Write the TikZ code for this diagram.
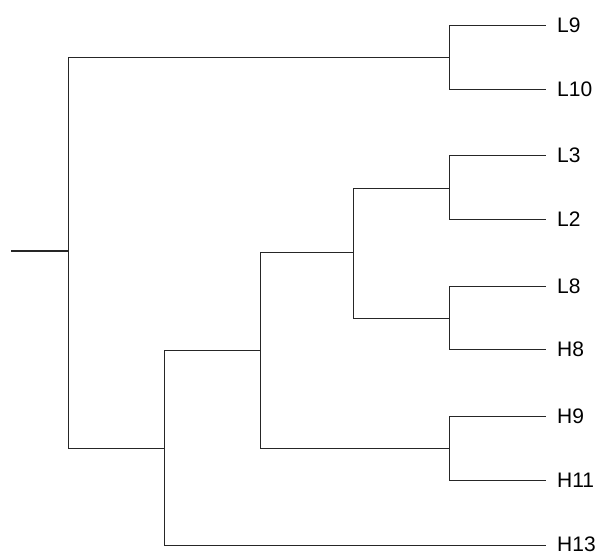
\documentclass[tikz,border=0pt]{standalone}
\usepackage{fontspec}
\setmainfont{Liberation Sans}
\begin{document}
\begin{tikzpicture}[x=1pt,y=-1pt,
  branch/.style={line width=1pt,black!85},
  rootline/.style={line width=1.8pt,black!85},
  leaflabel/.style={anchor=west,inner sep=0pt,font=\fontsize{21}{21}\selectfont}]
\useasboundingbox (0,0) rectangle (606,555);
% internal nodes
\coordinate (r0) at (11,251);
\coordinate (n1) at (68,251);
\coordinate (a) at (449,57);
\coordinate (b) at (164,448);
\coordinate (c) at (260,350);
\coordinate (d) at (353,252);
\coordinate (e) at (449,448);
\coordinate (f) at (449,188);
\coordinate (g) at (449,318);
% leaf ends
\coordinate (eL9) at (546,25);
\coordinate (eL10) at (546,89);
\coordinate (eL3) at (546,155);
\coordinate (eL2) at (546,219);
\coordinate (eL8) at (546,286);
\coordinate (eH8) at (546,349);
\coordinate (eH9) at (546,416);
\coordinate (eH11) at (546,480);
\coordinate (eH13) at (546,545);
% labels
\node[leaflabel] (L9) at (557,25) {L9};
\node[leaflabel] (L10) at (557,89) {L10};
\node[leaflabel] (L3) at (557,155) {L3};
\node[leaflabel] (L2) at (557,219) {L2};
\node[leaflabel] (L8) at (557,286) {L8};
\node[leaflabel] (H8) at (557,349) {H8};
\node[leaflabel] (H9) at (557,416) {H9};
\node[leaflabel] (H11) at (557,480) {H11};
\node[leaflabel] (H13) at (557,544) {H13};
% edges
\draw[rootline] (r0) -- (n1);
\draw[branch] (n1) |- (a);
\draw[branch] (n1) |- (b);
\draw[branch] (a) |- (eL9);
\draw[branch] (a) |- (eL10);
\draw[branch] (b) |- (c);
\draw[branch] (b) |- (eH13);
\draw[branch] (c) |- (d);
\draw[branch] (c) |- (e);
\draw[branch] (d) |- (f);
\draw[branch] (d) |- (g);
\draw[branch] (f) |- (eL3);
\draw[branch] (f) |- (eL2);
\draw[branch] (g) |- (eL8);
\draw[branch] (g) |- (eH8);
\draw[branch] (e) |- (eH9);
\draw[branch] (e) |- (eH11);
\end{tikzpicture}
\end{document}
